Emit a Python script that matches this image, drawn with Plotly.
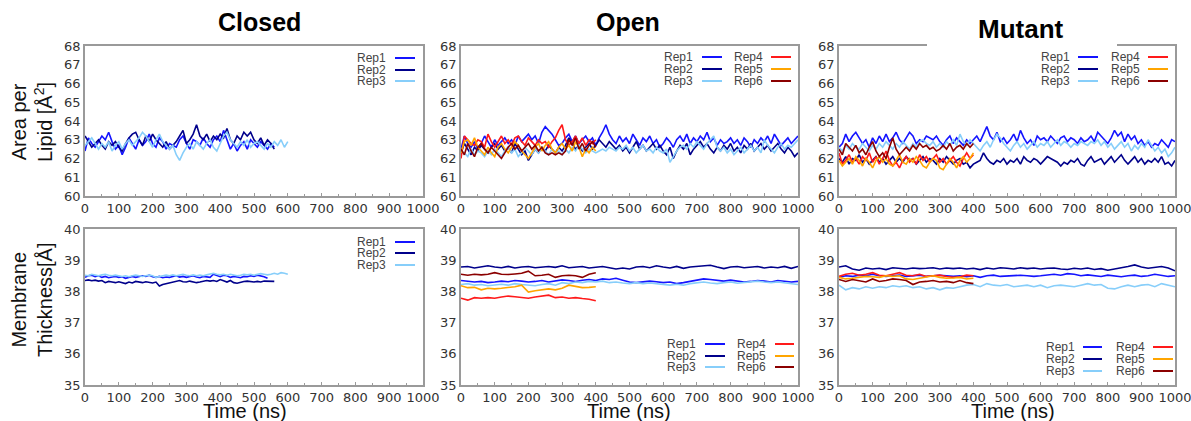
import plotly.graph_objects as go

# ---------------- DATA ----------------
rep_names = ["Rep1", "Rep2", "Rep3", "Rep4", "Rep5", "Rep6"]
rep_colors = ["#1414ff", "#00008b", "#87cefa", "#ff1a1a", "#ffa500", "#8b0000"]
panel_titles = ["Closed", "Open", "Mutant"]
x_ticks = [0, 100, 200, 300, 400, 500, 600, 700, 800, 900, 1000]
area_ticks = [60, 61, 62, 63, 64, 65, 66, 67, 68]
thick_ticks = [35, 36, 37, 38, 39, 40]

area_step = 10   # ns between samples (area per lipid)
thick_step_closed = 10
thick_step = 20  # ns between samples (thickness, open / mutant)

# Area per lipid - Closed
closed_area_rep1 = [62.4, 63.1, 62.8, 62.6, 62.9, 63.2, 63.0, 63.4, 62.9, 62.5, 62.7, 62.2, 62.6, 63.1, 62.8, 62.5, 63.0, 62.7, 62.9, 63.3,
                    62.8, 62.6, 63.1, 62.9, 62.5, 62.8, 62.7, 62.6, 63.0, 63.2, 62.8, 62.5, 63.0, 62.9, 62.7, 63.1, 62.8, 62.6, 63.0, 63.2,
                    62.9, 63.5, 63.0, 62.5, 62.8, 62.4, 62.7, 62.9, 62.5, 63.0, 62.8, 62.6, 62.9, 62.7, 62.5, 62.8, 62.6]
closed_area_rep2 = [63.2, 62.9, 62.6, 62.8, 63.0, 62.7, 62.5, 62.9, 62.7, 62.9, 62.6, 62.4, 62.8, 63.1, 63.3, 63.4, 63.0, 62.7, 63.2, 62.9,
                    63.3, 63.0, 62.8, 62.6, 62.9, 62.5, 62.7, 62.9, 63.2, 63.5, 62.8, 63.0, 63.3, 63.8, 63.2, 63.0, 63.3, 62.9, 63.2, 63.0,
                    63.3, 63.1, 63.6, 63.0, 62.8, 63.2, 63.0, 63.4, 63.2, 63.4, 63.0, 62.8, 63.1, 62.7, 63.0, 62.8, 62.5]
closed_area_rep3 = [62.7, 62.9, 63.1, 62.8, 62.5, 62.8, 62.6, 62.9, 62.4, 62.7, 62.9, 62.5, 62.8, 63.0, 62.7, 62.9, 63.1, 63.4, 63.2, 62.9,
                    62.6, 63.0, 63.3, 62.9, 62.7, 62.5, 62.7, 62.2, 61.9, 62.3, 62.6, 62.8, 62.5, 62.9, 62.7, 62.5, 62.8, 63.0, 62.6, 62.4,
                    62.8, 63.2, 63.4, 63.0, 62.8, 62.6, 62.9, 62.7, 63.0, 62.6, 62.8, 62.9, 62.7, 62.5, 62.8, 62.6, 62.9, 62.7, 63.0, 62.6, 62.9]

# Area per lipid - Open
open_area_rep1 = [62.5, 63.2, 62.8, 62.6, 62.9, 62.5, 62.8, 63.2, 62.9, 62.6,
                  63.0, 62.7, 62.9, 63.1, 62.8, 63.0, 62.7, 63.2, 62.9, 63.1,
                  63.3, 63.0, 63.2, 62.8, 63.4, 63.7, 63.5, 63.3, 63.0, 62.7,
                  62.8, 63.1, 63.3, 62.9, 63.2, 62.8, 63.0, 63.2, 62.9, 63.1,
                  62.7, 63.1, 63.4, 63.8, 63.3, 63.0, 62.8, 63.2, 62.9, 63.1,
                  62.8, 63.3, 63.0, 62.7, 63.1, 62.9, 63.2, 62.8, 63.0, 62.6,
                  62.8, 63.1, 62.9, 62.6, 63.0, 63.2, 62.9, 63.3, 62.8, 63.1,
                  62.9, 63.2, 63.0, 63.4, 62.9, 63.1, 62.7, 63.0, 62.8, 62.9,
                  63.1, 62.8, 63.0, 62.7, 63.1, 62.9, 62.6, 63.0, 62.8, 63.1,
                  62.9, 63.2, 62.8, 63.3, 63.0, 62.7, 62.9, 63.1, 62.8, 63.0, 63.2]
open_area_rep2 = [62.3, 62.8, 62.5, 62.2, 62.6, 62.4, 62.7, 62.5, 62.3, 62.6,
                  62.8, 62.5, 62.7, 62.4, 62.6, 62.3, 62.8, 62.5, 62.2, 62.4,
                  61.9, 62.2, 62.5, 62.3, 62.6, 62.4, 62.7, 62.5, 62.3, 62.6,
                  62.4, 62.7, 63.1, 62.8, 62.5, 62.7, 62.4, 62.6, 62.8, 62.5,
                  62.7, 63.0, 62.8, 62.6, 62.9, 62.7, 62.5, 62.7, 62.4, 62.6,
                  62.3, 62.6, 62.9, 62.5, 62.7, 62.4, 62.6, 62.8, 62.5, 62.7,
                  62.4, 62.2, 62.6, 62.0, 62.4, 62.7, 62.5, 62.8, 62.2, 62.5,
                  62.7, 62.9, 62.6, 62.8, 62.5, 62.3, 62.6, 62.4, 62.7, 62.5,
                  62.8, 62.4, 62.6, 62.3, 62.7, 62.5, 62.8, 62.4, 62.6, 62.8,
                  62.5, 62.7, 62.4, 62.6, 62.8, 62.5, 62.3, 62.6, 62.4, 62.1, 62.3]
open_area_rep3 = [62.4, 62.3, 62.1, 62.5, 62.2, 62.4, 62.3, 62.1, 62.4, 62.2,
                  62.5, 62.3, 62.1, 62.4, 62.6, 62.3, 62.5, 62.1, 62.3, 62.6,
                  62.4, 62.2, 62.5, 62.3, 62.6, 62.4, 62.2, 62.5, 62.3, 62.4,
                  62.2, 62.5, 62.3, 62.6, 62.4, 62.7, 62.5, 62.3, 62.5, 62.4,
                  62.3, 62.4, 62.5, 62.4, 62.6, 62.5, 62.4, 62.6, 62.5, 62.7,
                  62.4, 62.6, 62.3, 62.5, 62.7, 62.4, 62.5, 62.3, 62.6, 62.4,
                  62.3, 62.5, 61.8, 62.1, 62.4, 62.6, 62.7, 62.5, 62.8, 62.6,
                  62.9, 62.7, 62.5, 62.8, 63.0, 63.2, 62.6, 62.4, 62.6, 62.3,
                  62.5, 62.2, 62.4, 62.6, 62.3, 62.5, 62.7, 62.4, 62.6, 62.3,
                  63.0, 62.7, 62.5, 62.3, 62.6, 62.8, 62.5, 62.7, 62.6, 62.8, 63.0]
open_area_rep4 = [62.0, 63.2, 63.0, 62.8, 62.7, 63.0, 62.9, 62.6, 63.3, 62.9,
                  62.6, 62.9, 63.2, 62.8, 63.0, 62.7, 63.1, 63.2, 62.9, 62.7,
                  63.1, 62.9, 62.7, 63.0, 62.8, 62.9, 62.6, 62.9, 63.1, 63.5,
                  63.8, 63.0, 62.7, 62.9, 63.2, 62.8, 63.1, 62.7, 63.0, 62.8, 63.0]
open_area_rep5 = [62.3, 62.9, 63.0, 62.7, 63.1, 62.6, 62.4, 62.2, 62.6, 62.3,
                  62.1, 62.6, 62.8, 62.5, 62.3, 62.6, 62.9, 62.7, 62.4, 62.2,
                  62.0, 62.3, 62.6, 62.8, 62.4, 62.7, 62.9, 62.5, 62.3, 62.6,
                  62.8, 62.5, 62.7, 62.4, 62.9, 62.6, 62.1, 62.5, 62.3, 62.6, 62.4]
open_area_rep6 = [62.5, 62.2, 62.8, 62.4, 62.1, 62.6, 62.8, 62.5, 62.3, 62.6,
                  62.4, 62.2, 62.0, 62.3, 62.6, 62.8, 62.5, 62.7, 62.4, 62.6,
                  62.8, 62.5, 62.7, 62.4, 62.6, 62.3, 62.2, 62.3, 62.2, 62.3,
                  62.2, 62.4, 63.0, 62.7, 63.1, 62.5, 62.8, 62.4, 62.7, 62.9, 62.6]

# Area per lipid - Mutant
mut_area_rep1 = [62.6, 62.8, 63.3, 62.9, 63.2, 63.4, 63.1, 62.8, 63.0, 62.6,
                 63.1, 62.8, 63.2, 62.9, 63.3, 62.9, 63.1, 63.4, 63.0, 62.8,
                 63.1, 63.4, 63.2, 62.8, 63.0, 62.9, 63.2, 63.1, 63.0, 63.2,
                 62.9, 62.7, 63.0, 63.2, 62.8, 63.1, 62.9, 62.7, 63.0, 62.8,
                 63.0, 63.2, 62.9, 63.3, 63.7, 63.2, 63.0, 63.4, 62.9, 63.1,
                 62.8, 63.0, 63.3, 62.9, 63.5, 63.1, 62.8, 63.0, 62.7, 63.2,
                 63.0, 63.1, 62.9, 63.2, 63.0, 62.8, 63.1, 63.2, 62.9, 63.1,
                 63.0, 62.8, 63.1, 62.9, 63.0, 63.2, 62.9, 63.4, 63.2, 63.0,
                 62.8, 63.1, 63.5, 63.2, 63.4, 62.9, 63.3, 63.0, 63.2, 62.8,
                 63.0, 62.7, 62.9, 62.6, 62.8, 62.7, 63.0, 62.8, 62.6, 63.0, 62.9]
mut_area_rep2 = [62.0, 61.8, 62.1, 61.7, 62.0, 61.9, 62.2, 61.8, 62.0, 61.7,
                 61.9, 62.1, 61.8, 62.0, 61.7, 61.9, 62.1, 61.8, 62.0, 61.8,
                 62.1, 61.9, 62.0, 61.7, 61.9, 62.1, 61.8, 62.0, 61.9, 61.7,
                 62.0, 61.8, 62.1, 61.9, 61.7, 61.9, 62.0, 61.7, 61.8, 61.5,
                 61.7, 61.8, 61.9, 62.3, 62.0, 61.8, 61.7, 61.9, 61.8, 62.0,
                 61.7, 61.9, 61.8, 62.0, 61.7, 62.1, 61.9, 61.8, 62.0, 61.9,
                 61.7, 61.9, 62.1, 62.0, 61.9, 61.8, 61.6, 61.8, 61.7, 61.9,
                 61.8, 62.0, 61.7, 61.6, 61.9, 62.1, 61.8, 61.9, 62.0, 61.7,
                 61.9, 62.1, 61.8, 62.0, 62.2, 61.9, 61.7, 61.9, 62.1, 61.8,
                 62.0, 61.7, 61.9, 61.8, 62.0, 61.8, 62.1, 61.7, 61.8, 61.6, 61.9]
mut_area_rep3 = [62.6, 62.4, 62.7, 62.5, 62.8, 62.6, 62.5, 62.8, 62.6, 62.4,
                 62.7, 62.5, 62.8, 62.6, 62.9, 62.7, 62.5, 62.8, 62.6, 62.9,
                 62.7, 62.5, 62.8, 62.6, 62.9, 63.0, 62.8, 62.7, 62.9, 62.6,
                 62.8, 62.6, 62.9, 62.7, 63.0, 62.7, 63.3, 62.9, 62.7, 63.0,
                 62.8, 62.6, 62.4, 62.7, 62.9, 62.6, 63.0, 63.3, 63.1, 62.8,
                 62.6, 62.4, 62.7, 62.9, 62.6, 62.8, 62.5, 62.7, 62.9, 62.6,
                 62.8, 62.7, 62.9, 62.6, 62.8, 63.0, 62.7, 62.9, 62.8, 62.6,
                 62.8, 62.7, 62.9, 62.8, 62.7, 62.9, 62.8, 63.0, 62.7, 62.9,
                 62.6, 62.8, 62.5, 62.7, 62.9, 62.6, 62.8, 62.4, 62.7, 62.5,
                 62.8, 62.6, 63.0, 62.7, 62.4, 62.6, 62.3, 62.5, 62.1, 62.3, 62.6]
mut_area_rep4 = [62.3, 61.7, 61.9, 62.2, 61.8, 62.0, 61.7, 62.1, 61.9, 62.3,
                 61.8, 62.1, 61.7, 62.0, 62.4, 61.9, 61.6, 61.8, 61.5, 61.9,
                 62.1, 61.8, 62.0, 61.7, 62.2, 61.9, 62.1, 61.8, 62.0, 62.2,
                 61.8, 62.0, 61.7, 61.9, 62.1, 61.8, 61.6, 62.0, 62.3, 62.0, 62.2]
mut_area_rep5 = [61.9, 61.6, 61.8, 62.0, 61.7, 62.1, 61.9, 61.6, 62.0, 61.8,
                 61.5, 61.9, 62.1, 61.8, 62.0, 61.7, 61.6, 61.9, 62.2, 61.8,
                 61.7, 62.0, 61.8, 62.1, 61.9, 61.6, 61.5, 61.8, 62.0, 61.9,
                 61.5, 61.4, 61.7, 62.0, 61.8, 61.5, 61.9, 62.1, 61.8, 62.0, 62.3]
mut_area_rep6 = [62.5, 62.2, 62.8, 62.6, 62.4, 62.7, 62.3, 62.5, 62.2, 62.6,
                 62.9, 62.4, 62.1, 62.3, 62.0, 62.6, 63.1, 62.5, 62.2, 62.4,
                 62.6, 62.4, 62.7, 62.5, 62.8, 62.6, 62.7, 62.5, 62.6, 62.4,
                 62.5, 62.7, 62.5, 62.8, 62.4, 62.6, 62.7, 62.5, 62.8, 62.6, 62.8]

# Membrane thickness - Closed (10 ns samples)
closed_thick_rep1 = [38.45, 38.5, 38.52, 38.47, 38.5, 38.45, 38.48, 38.44, 38.46, 38.48, 38.45, 38.47, 38.42, 38.46, 38.48, 38.45,
                     38.47, 38.5, 38.48, 38.52, 38.47, 38.45, 38.48, 38.44, 38.46, 38.45, 38.48, 38.5, 38.46, 38.48, 38.45, 38.47,
                     38.5, 38.46, 38.44, 38.48, 38.47, 38.45, 38.55, 38.5, 38.47, 38.52, 38.5, 38.45, 38.48, 38.46, 38.44, 38.48,
                     38.47, 38.5, 38.48, 38.52, 38.5, 38.47, 38.42]
closed_thick_rep2 = [38.35, 38.37, 38.34, 38.36, 38.33, 38.35, 38.28, 38.32, 38.3, 38.28, 38.31, 38.29, 38.25, 38.3, 38.27, 38.32,
                     38.3, 38.28, 38.31, 38.29, 38.27, 38.3, 38.17, 38.22, 38.25, 38.28, 38.3, 38.32, 38.35, 38.31, 38.3, 38.33,
                     38.3, 38.28, 38.3, 38.32, 38.35, 38.33, 38.35, 38.32, 38.38, 38.34, 38.3, 38.35, 38.28, 38.26, 38.3, 38.32,
                     38.33, 38.31, 38.3, 38.32, 38.3, 38.33, 38.32, 38.31, 38.32]
closed_thick_rep3 = [38.52, 38.5, 38.55, 38.52, 38.5, 38.53, 38.55, 38.52, 38.5, 38.52, 38.5, 38.48, 38.5, 38.47, 38.5, 38.52,
                     38.5, 38.48, 38.5, 38.52, 38.5, 38.45, 38.48, 38.5, 38.52, 38.5, 38.53, 38.5, 38.52, 38.55, 38.52, 38.5,
                     38.53, 38.5, 38.52, 38.5, 38.53, 38.55, 38.58, 38.55, 38.53, 38.55, 38.52, 38.55, 38.53, 38.5, 38.52, 38.55,
                     38.53, 38.55, 38.52, 38.55, 38.57, 38.55, 38.53, 38.55, 38.58, 38.55, 38.6, 38.58, 38.55]

# Membrane thickness - Open (20 ns samples)
open_thick_rep1 = [38.35, 38.33, 38.3, 38.32, 38.28, 38.3, 38.33, 38.31, 38.35, 38.33, 38.3, 38.32, 38.35, 38.3, 38.33, 38.37, 38.35,
                   38.32, 38.36, 38.38, 38.35, 38.4, 38.38, 38.42, 38.36, 38.3, 38.28, 38.3, 38.33, 38.31, 38.28, 38.3, 38.25,
                   38.28, 38.32, 38.35, 38.4, 38.38, 38.35, 38.33, 38.36, 38.33, 38.3, 38.32, 38.35, 38.33, 38.3, 38.35, 38.32,
                   38.3, 38.32]
open_thick_rep2 = [38.78, 38.8, 38.75, 38.78, 38.82, 38.78, 38.76, 38.8, 38.75, 38.78, 38.8, 38.76, 38.78, 38.8, 38.77, 38.82, 38.76,
                   38.78, 38.8, 38.75, 38.78, 38.8, 38.76, 38.72, 38.75, 38.72, 38.78, 38.8, 38.76, 38.82, 38.78, 38.75, 38.8,
                   38.74, 38.78, 38.8, 38.82, 38.84, 38.78, 38.73, 38.78, 38.8, 38.76, 38.78, 38.8, 38.75, 38.78, 38.76, 38.8,
                   38.74, 38.8]
open_thick_rep3 = [38.22, 38.25, 38.2, 38.22, 38.18, 38.2, 38.23, 38.2, 38.25, 38.22, 38.2, 38.18, 38.22, 38.25, 38.2, 38.28, 38.25,
                   38.3, 38.28, 38.32, 38.3, 38.33, 38.28, 38.3, 38.27, 38.25, 38.28, 38.25, 38.27, 38.25, 38.22, 38.2, 38.23,
                   38.2, 38.25, 38.28, 38.3, 38.27, 38.25, 38.28, 38.3, 38.26, 38.28, 38.3, 38.33, 38.3, 38.28, 38.3, 38.27,
                   38.25, 38.22]
open_thick_rep4 = [37.78, 37.72, 37.8, 37.78, 37.8, 37.78, 37.82, 37.85, 37.83, 37.8, 37.78, 37.82, 37.85, 37.88, 37.8, 37.82, 37.78,
                   37.8, 37.77, 37.75, 37.7]
open_thick_rep5 = [38.18, 38.12, 38.13, 38.05, 38.1, 38.08, 38.1, 38.12, 38.15, 38.2, 37.98, 38.02, 38.05, 38.08, 38.05, 38.1, 38.2,
                   38.15, 38.12, 38.13, 38.15]
open_thick_rep6 = [38.55, 38.52, 38.55, 38.53, 38.55, 38.6, 38.55, 38.54, 38.56, 38.58, 38.65, 38.5, 38.52, 38.55, 38.45, 38.5, 38.52,
                   38.5, 38.45, 38.55, 38.6]

# Membrane thickness - Mutant (20 ns samples)
mut_thick_rep1 = [38.45, 38.5, 38.48, 38.52, 38.5, 38.55, 38.5, 38.48, 38.5, 38.52, 38.48, 38.5, 38.52, 38.48, 38.5, 38.52, 38.5,
                  38.48, 38.5, 38.47, 38.5, 38.45, 38.5, 38.52, 38.48, 38.5, 38.5, 38.52, 38.5, 38.48, 38.5, 38.53, 38.55, 38.52,
                  38.57, 38.55, 38.5, 38.53, 38.5, 38.48, 38.52, 38.5, 38.47, 38.5, 38.52, 38.48, 38.5, 38.55, 38.52, 38.48, 38.5]
mut_thick_rep2 = [38.78, 38.82, 38.72, 38.68, 38.75, 38.72, 38.74, 38.7, 38.76, 38.73, 38.72, 38.75, 38.73, 38.74, 38.76, 38.72,
                  38.75, 38.73, 38.75, 38.72, 38.74, 38.7, 38.75, 38.72, 38.76, 38.74, 38.72, 38.76, 38.73, 38.75, 38.72, 38.74,
                  38.75, 38.72, 38.7, 38.74, 38.72, 38.75, 38.7, 38.73, 38.68, 38.72, 38.75, 38.8, 38.85, 38.78, 38.74, 38.76,
                  38.8, 38.75, 38.66]
mut_thick_rep3 = [38.2, 38.05, 38.12, 38.08, 38.15, 38.1, 38.15, 38.12, 38.18, 38.15, 38.18, 38.12, 38.15, 38.08, 38.12, 38.05, 38.12,
                  38.1, 38.15, 38.2, 38.22, 38.15, 38.25, 38.2, 38.18, 38.22, 38.15, 38.18, 38.2, 38.15, 38.2, 38.12, 38.18, 38.2,
                  38.18, 38.15, 38.2, 38.25, 38.2, 38.22, 38.1, 38.08, 38.15, 38.2, 38.15, 38.2, 38.22, 38.15, 38.25, 38.2, 38.15]
mut_thick_rep4 = [38.48, 38.55, 38.58, 38.52, 38.55, 38.6, 38.52, 38.5, 38.55, 38.6, 38.52, 38.5, 38.55, 38.48, 38.5, 38.52, 38.48,
                  38.45, 38.47, 38.52, 38.5]
mut_thick_rep5 = [38.45, 38.4, 38.42, 38.45, 38.48, 38.47, 38.45, 38.5, 38.48, 38.5, 38.4, 38.38, 38.42, 38.45, 38.5, 38.45, 38.42,
                  38.43, 38.45, 38.4, 38.42]
mut_thick_rep6 = [38.38, 38.32, 38.38, 38.35, 38.3, 38.4, 38.32, 38.35, 38.4, 38.38, 38.35, 38.22, 38.3, 38.32, 38.35, 38.3, 38.32,
                  38.28, 38.35, 38.28, 38.25]

panels = [
    # (row, col, step, series list)
    (0, 0, area_step, [closed_area_rep1, closed_area_rep2, closed_area_rep3]),
    (0, 1, area_step, [open_area_rep1, open_area_rep2, open_area_rep3, open_area_rep4, open_area_rep5, open_area_rep6]),
    (0, 2, area_step, [mut_area_rep1, mut_area_rep2, mut_area_rep3, mut_area_rep4, mut_area_rep5, mut_area_rep6]),
    (1, 0, thick_step_closed, [closed_thick_rep1, closed_thick_rep2, closed_thick_rep3]),
    (1, 1, thick_step, [open_thick_rep1, open_thick_rep2, open_thick_rep3, open_thick_rep4, open_thick_rep5, open_thick_rep6]),
    (1, 2, thick_step, [mut_thick_rep1, mut_thick_rep2, mut_thick_rep3, mut_thick_rep4, mut_thick_rep5, mut_thick_rep6]),
]

# ---------------- LAYOUT ----------------
# The page body margin is removed (see post_script), so the figure fills the window exactly
W, H = 1191, 421


def fx(px):
    return px / W


def fy(py):
    return 1 - py / H


col_px = [(85, 423), (461, 798), (839, 1175)]
row_px = [(46, 196), (229, 385)]

fig = go.Figure()
TICKFONT = dict(family="DejaVu Sans", size=13, color="#333333")
AXLINE = "#9a9a9a"

for idx, (r, c, step, series) in enumerate(panels):
    n = idx + 1
    xa = "x" if n == 1 else f"x{n}"
    ya = "y" if n == 1 else f"y{n}"
    for k, vals in enumerate(series):
        t = [i * step for i in range(len(vals))]
        fig.add_trace(go.Scatter(x=t, y=vals, mode="lines", xaxis=xa, yaxis=ya,
                                 line=dict(color=rep_colors[k], width=1.6),
                                 name=rep_names[k], showlegend=False, hoverinfo="skip"))
    x0, x1 = col_px[c]
    y0, y1 = row_px[r]
    xkey = "xaxis" if n == 1 else f"xaxis{n}"
    ykey = "yaxis" if n == 1 else f"yaxis{n}"
    fig.update_layout(**{
        xkey: dict(domain=[fx(x0), fx(x1)], anchor=ya, range=[0, 1000], tickvals=x_ticks,
                   automargin=False, ticklabeloverflow="allow",
                   ticks="inside", ticklen=3, tickcolor=AXLINE, showline=True, linecolor=AXLINE,
                   linewidth=1.5, mirror=True, showgrid=False, zeroline=False, tickfont=TICKFONT,
                   minor=dict(ticks="inside", ticklen=2, dtick=50, tickcolor=AXLINE)),
        ykey: dict(domain=[fy(y1), fy(y0)], anchor=xa,
                   automargin=False,
                   range=[60, 68] if r == 0 else [35, 40],
                   tickvals=area_ticks if r == 0 else thick_ticks,
                   ticks="", showline=True, linecolor=AXLINE, linewidth=1.5, mirror=True,
                   showgrid=False, zeroline=False, tickfont=TICKFONT),
    })

annotations = []
shapes = []

# Panel titles
title_specs = [(259, 22, 25), (628, 22, 25), (1021, 29, 26)]
for name, (px, py, fs) in zip(panel_titles, title_specs):
    annotations.append(dict(text=f"<b>{name}</b>", x=fx(px), y=fy(py), xref="paper", yref="paper",
                            showarrow=False, xanchor="center", yanchor="middle",
                            font=dict(family="Liberation Sans", size=fs, color="#000000")))

# Gap in the top border of the Mutant panel behind its title
shapes.append(dict(type="rect", xref="paper", yref="paper", x0=fx(927), x1=fx(1117), y0=fy(49), y1=fy(43),
                   fillcolor="white", line=dict(width=0, color="white"), layer="above"))

# Y axis titles
annotations.append(dict(text="Area per<br>Lipid [Å<sup>2</sup>]", x=fx(32), y=fy(122), xref="paper", yref="paper",
                        showarrow=False, textangle=-90, xanchor="center", yanchor="middle",
                        font=dict(family="Liberation Sans", size=20, color="#111111")))
annotations.append(dict(text="Membrane<br>Thickness[Å]", x=fx(32), y=fy(300), xref="paper", yref="paper",
                        showarrow=False, textangle=-90, xanchor="center", yanchor="middle",
                        font=dict(family="Liberation Sans", size=20, color="#111111")))

# X axis titles
for px in [245, 629, 1013]:
    annotations.append(dict(text="Time (ns)", x=fx(px), y=fy(411), xref="paper", yref="paper",
                            showarrow=False, xanchor="center", yanchor="middle",
                            font=dict(family="Liberation Sans", size=20, color="#111111")))

# Legends (text right-aligned, line sample to the right)
legend_specs = [
    ([(388, 395, 415)], [58, 70, 81], 3),
    ([(695, 702, 722), (765, 771, 791)], [57, 69, 81], 6),
    ([(1072, 1078, 1098), (1142, 1148, 1168)], [57, 69, 81], 6),
    ([(388, 395, 415)], [242, 253, 265], 3),
    ([(698, 705, 725), (768, 775, 794)], [344, 356, 367], 6),
    ([(1077, 1083, 1102), (1147, 1153, 1173)], [347, 359, 371], 6),
]
for cols, rows, count in legend_specs:
    for k in range(count):
        gc = k // 3
        gr = k % 3
        tr, lx0, lx1 = cols[gc]
        py = rows[gr]
        annotations.append(dict(text=rep_names[k], x=fx(tr), y=fy(py), xref="paper", yref="paper",
                                showarrow=False, xanchor="right", yanchor="middle",
                                font=dict(family="Liberation Sans", size=12, color="#444444")))
        shapes.append(dict(type="line", xref="paper", yref="paper", x0=fx(lx0), x1=fx(lx1), y0=fy(py), y1=fy(py),
                           line=dict(color=rep_colors[k], width=2)))

fig.update_layout(width=W, height=H, margin=dict(l=0, r=0, t=0, b=0),
                  paper_bgcolor="white", plot_bgcolor="white",
                  annotations=annotations, shapes=shapes, showlegend=False)

fig.write_html("out.html",
               config={"displayModeBar": False},
               post_script="document.body.style.margin='0';document.body.style.overflow='hidden';")
